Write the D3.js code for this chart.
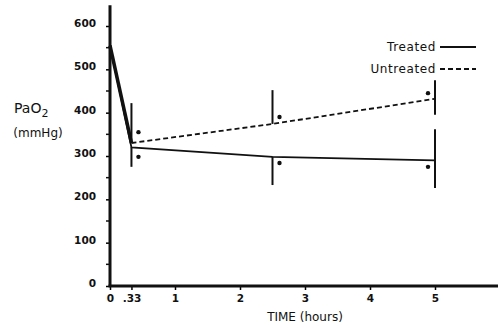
<!DOCTYPE html>
<meta charset="utf-8">
<style>
body { margin: 0; background: #fff; }
text { font-family: "DejaVu Sans", sans-serif; fill: #111; }
.tick text { font-size: 10.5px; font-weight: bold; }
.trt { fill: none; stroke: #111; stroke-width: 1.8px; }
.untrt { fill: none; stroke: #111; stroke-width: 1.8px; stroke-dasharray: 5,3; }
.bar { stroke: #111; stroke-width: 2px; }
</style>
<body>
<script src="https://d3js.org/d3.v7.min.js"></script>
<script>

// data
var times = [0, 0.33, 2.5, 5];
var treated = [555, 320, 298, 290];
var untreated = [555, 330, 374, 432];
// error bars: time, low, high
var treatedBars = [[0.33, 275, 320], [2.5, 233, 298], [5, 226, 362]];
var untreatedBars = [[0.33, 330, 422], [2.5, 374, 452], [5, 395, 475]];
// significance dots: time, value, side (1 right of bar, -1 left)
var dots = [[0.33, 355, 1], [0.33, 298, 1], [2.5, 390, 1], [2.5, 284, 1], [5, 445, -1], [5, 275, -1]];
var xTicks = [0, 0.33, 1, 2, 3, 4, 5];
var xTickLabels = ["0", ".33", "1", "2", "3", "4", "5"];
var yTicks = [0, 100, 200, 300, 400, 500, 600];
var yMinor = [50, 150, 250, 350, 450, 550];

var width = 498, height = 328;

var x = d3.scaleLinear().domain([0, 6]).range([110, 500]);
var y = d3.scaleLinear().domain([0, 600]).range([286, 26]);

var svg = d3.select("body").append("svg")
    .attr("width", width)
    .attr("height", height);

// y axis
var yAxis = svg.append("g")
    .attr("transform", "translate(" + x(0) + ",0)")
    .call(d3.axisLeft(y).tickValues(yTicks).tickSize(4).tickPadding(10));
yAxis.select(".domain").remove();
yAxis.selectAll(".tick line").attr("stroke-width", 1.5);
yAxis.selectAll(".tick text").attr("dy", "0.05em");
svg.append("g").selectAll("line").data(yMinor).enter().append("line")
    .attr("x1", x(0) - 4).attr("x2", x(0))
    .attr("y1", function(d) { return y(d); }).attr("y2", function(d) { return y(d); })
    .attr("stroke", "#111").attr("stroke-width", 1.5);
svg.append("line")
    .attr("x1", x(0)).attr("x2", x(0))
    .attr("y1", y(0) + 1).attr("y2", y(648))
    .attr("stroke", "#111").attr("stroke-width", 3);

// x axis
var xAxis = svg.append("g")
    .attr("transform", "translate(0," + y(0) + ")")
    .call(d3.axisBottom(x).tickValues(xTicks)
      .tickFormat(function(d, i) { return xTickLabels[i]; })
      .tickSize(4).tickPadding(5));
xAxis.select(".domain").remove();
xAxis.selectAll(".tick line").attr("stroke-width", 1.5);
svg.append("line")
    .attr("x1", x(0) - 1.5).attr("x2", width)
    .attr("y1", y(0)).attr("y2", y(0))
    .attr("stroke", "#111").attr("stroke-width", 3);

// lines
var line = d3.line()
    .x(function(d) { return x(d[0]); })
    .y(function(d) { return y(d[1]); });
svg.append("path").attr("class", "untrt")
    .attr("d", line(times.slice(1).map(function(t, i) { return [t, untreated[i + 1]]; })));
svg.append("path").attr("class", "trt")
    .attr("d", line(times.map(function(t, i) { return [t, treated[i]]; })));
svg.append("path").attr("class", "trt").style("stroke-width", "3.5px")
    .attr("d", line([[times[0], untreated[0]], [times[1], untreated[1]]]));

// error bars
svg.append("g").selectAll("line").data(treatedBars.concat(untreatedBars)).enter().append("line")
    .attr("class", "bar")
    .attr("x1", function(d) { return x(d[0]); }).attr("x2", function(d) { return x(d[0]); })
    .attr("y1", function(d) { return y(d[1]); }).attr("y2", function(d) { return y(d[2]); });

// dots
svg.append("g").selectAll("circle").data(dots).enter().append("circle")
    .attr("cx", function(d) { return x(d[0]) + d[2] * 7; })
    .attr("cy", function(d) { return y(d[1]); })
    .attr("r", 2.2).attr("fill", "#111");

// axis titles
var yt = svg.append("text").attr("x", 14).attr("y", 113).style("font-size", "14px");
yt.append("tspan").text("PaO");
yt.append("tspan").attr("dy", 4).style("font-size", "11px").text("2");
svg.append("text").attr("x", 38).attr("y", 137).attr("text-anchor", "middle")
    .style("font-size", "12px").text("(mmHg)");
svg.append("text").attr("x", 305).attr("y", 321).attr("text-anchor", "middle")
    .style("font-size", "12px").text("TIME (hours)");

// legend
var legend = [["Treated", "trt", 47], ["Untreated", "untrt", 69]];
legend.forEach(function(l) {
  svg.append("text").attr("x", 436).attr("y", l[2] + 4).attr("text-anchor", "end")
      .style("font-size", "12px").style("letter-spacing", "0.6px").text(l[0]);
  svg.append("line").attr("class", l[1])
      .attr("x1", 440).attr("x2", 476).attr("y1", l[2]).attr("y2", l[2]);
});

</script>
</body>
